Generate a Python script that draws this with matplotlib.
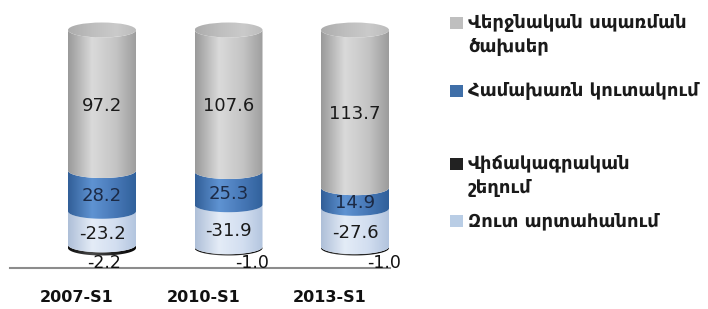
import numpy as np
import matplotlib
matplotlib.use('Agg')
import matplotlib.pyplot as plt
from matplotlib.path import Path
from matplotlib.patches import PathPatch, Ellipse, Rectangle
from matplotlib.colors import LinearSegmentedColormap

# Data
categories = ['2007-S1', '2010-S1', '2013-S1']
final_consumption = [97.2, 107.6, 113.7]
gross_accumulation = [28.2, 25.3, 14.9]
discrepancy = [-2.2, -1.0, -1.0]
net_exports = [-23.2, -31.9, -27.6]

legend_labels = ['Վերջնական սպառման\nծախսեր', 'Համախառն կուտակում',
                 'Վիճակագրական\nշեղում', 'Զուտ արտահանում']

# stacking order bottom -> top
stack = [discrepancy, net_exports, gross_accumulation, final_consumption]
shades = [
    ['#0a0a0a', '#4a4a4a', '#1e1e1e', '#050505'],
    ['#aebfd8', '#e4ecf7', '#d2def0', '#b2c4de'],
    ['#325f98', '#5f93d2', '#4677b6', '#30609a'],
    ['#9a9a9a', '#dadada', '#c4c4c4', '#9c9c9c'],
]
label_colors = ['#111111', '#1a1a1a', '#1c2a45', '#1a1a1a']

W, H = 708, 309
fig = plt.figure(figsize=(W / 100, H / 100), dpi=100)
ax = fig.add_axes([10 / W, (H - 268) / H, 380 / W, 248 / H])

px_x = 126.5   # pixels per x unit
px_y = 2.18    # pixels per percent
base_px = 20   # gap between axis line and cylinder bottoms
ax.set_xlim(-92 / px_x, 288 / px_x)
ax.set_ylim(-base_px / px_y, (248 - base_px) / px_y)

bw = 68 / px_x
eh = 15 / px_y   # ellipse full height in data units


def arc(xc, y, reverse=False, n=60):
    t = np.linspace(np.pi, 2 * np.pi, n)
    xs = xc + bw / 2 * np.cos(t)
    ys = y + eh / 2 * np.sin(t)
    pts = np.column_stack([xs, ys])
    return pts[::-1] if reverse else pts


def shaded(patch, xc, y0, y1, colors):
    ax.add_patch(patch)
    cmap = LinearSegmentedColormap.from_list('c', list(zip([0, 0.35, 0.7, 1], colors)))
    grad = np.linspace(0, 1, 200).reshape(1, -1)
    im = ax.imshow(grad, cmap=cmap, aspect='auto', interpolation='bilinear',
                   extent=[xc - bw / 2, xc + bw / 2, y0, y1], zorder=2)
    im.set_clip_path(patch)


for i, cat in enumerate(categories):
    vals = [s[i] for s in stack]
    total = sum(abs(v) for v in vals)
    bottom = 0.0
    for k, v in enumerate(vals):
        h = abs(v) / total * 100
        y0, y1 = bottom, bottom + h
        pts = np.vstack([arc(i, y0), arc(i, y1, reverse=True)])
        codes = [Path.MOVETO] + [Path.LINETO] * (len(pts) - 1)
        patch = PathPatch(Path(pts, codes), facecolor='none', edgecolor='none')
        shaded(patch, i, y0 - eh, y1 + eh, shades[k])
        if k == 0:
            dx = [0.02, 0.19, 0.23][i]
            ax.text(i + dx, y0 - 7, '%.1f' % v, ha='center', va='center',
                    fontsize=12.5, color=label_colors[k], zorder=5)
        else:
            ax.text(i, (y0 + y1) / 2 - 2.5, '%.1f' % v, ha='center', va='center',
                    fontsize=13, color=label_colors[k], zorder=5)
        bottom = y1
    # top cap
    cap = Ellipse((i, bottom), bw, eh, facecolor='none', edgecolor='none')
    shaded(cap, i, bottom - eh, bottom + eh, ['#acacac', '#bebebe', '#cacaca', '#bcbcbc'])

    ax.text(i - 25 / px_x, -(base_px + 30) / px_y, cat, ha='center', va='center',
            fontsize=11.5, fontweight='bold', color='#111111', clip_on=False)

for s in ['top', 'left', 'right']:
    ax.spines[s].set_visible(False)
ax.spines['bottom'].set_color('#8c8c8c')
ax.spines['bottom'].set_linewidth(1.5)
ax.set_xticks([])
ax.set_yticks([])
ax.patch.set_alpha(0)

# legend
leg_colors = ['#bfbfbf', '#3f6fa8', '#222222', '#b9cde5']
leg_y = [23, 91, 164, 221]
for c, lab, y in zip(leg_colors, legend_labels, leg_y):
    fig.patches.append(Rectangle((450 / W, 1 - (y + 6) / H), 13 / W, 12 / H,
                                 transform=fig.transFigure, facecolor=c,
                                 edgecolor='none'))
    fig.text(468 / W, 1 - (y - 9) / H, lab, ha='left', va='top', fontsize=13,
             fontweight='bold', color='#1a1a1a', linespacing=1.4)

fig.savefig('out.png', dpi=100)
